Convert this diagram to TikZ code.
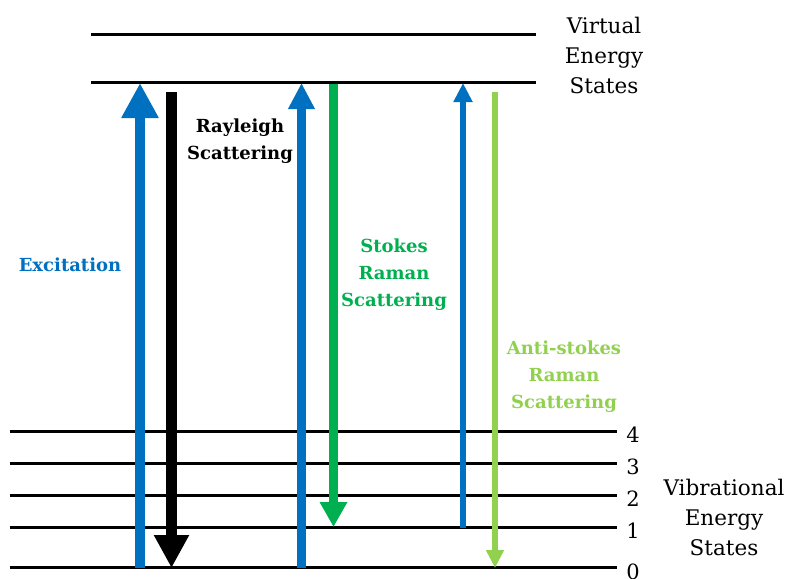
\documentclass[tikz,border=0pt]{standalone}
\usepackage{fontspec}
\setmainfont{DejaVu Serif}
\usetikzlibrary{arrows.meta}
\definecolor{xblue}{HTML}{0070C0}
\definecolor{xgreen}{HTML}{00B050}
\definecolor{xlgreen}{HTML}{92D050}
\tikzset{
  level/.style={line width=3pt, black},
  lbl/.style={align=center, font=\fontsize{18}{27}\selectfont\bfseries, inner sep=0pt},
  side/.style={align=center, font=\fontsize{21.5}{30}\selectfont, inner sep=0pt},
  num/.style={font=\fontsize{21}{24}\selectfont, inner sep=0pt},
}
\begin{document}
\begin{tikzpicture}[x=1pt,y=-1pt]
\useasboundingbox (0,0) rectangle (789,578);
% virtual levels
\coordinate (v1a) at (91,35);  \coordinate (v1b) at (536,35);
\coordinate (v2a) at (91,82);  \coordinate (v2b) at (536,82);
\draw[level] (v1a) -- (v1b);
\draw[level] (v2a) -- (v2b);
% vibrational levels
\foreach \n/\y in {4/431,3/463,2/495,1/527,0/567.5}{
  \coordinate (L\n a) at (10,\y);
  \coordinate (L\n b) at (617,\y);
  \draw[level] (L\n a) -- (L\n b);
  \node[num] (n\n) at (633,\y+4) {\n};
}
% arrows
\coordinate (exB) at (140,568); \coordinate (exT) at (140,83);
\draw[xblue, line width=10pt, -{Triangle[width=35pt,length=35pt]}] (exB) -- (exT);
\coordinate (raT) at (171.5,92); \coordinate (raB) at (171.5,568);
\draw[black, line width=11pt, -{Triangle[width=33pt,length=33pt]}] (raT) -- (raB);
\coordinate (b2B) at (301.5,568); \coordinate (b2T) at (301.5,83);
\draw[xblue, line width=9pt, -{Triangle[width=25pt,length=26pt]}] (b2B) -- (b2T);
\coordinate (stT) at (333.5,83.5); \coordinate (stB) at (333.5,527);
\draw[xgreen, line width=9pt, -{Triangle[width=26pt,length=25pt]}] (stT) -- (stB);
\coordinate (b3B) at (463,527.5); \coordinate (b3T) at (463,83);
\draw[xblue, line width=6pt, -{Triangle[width=18pt,length=19pt]}] (b3B) -- (b3T);
\coordinate (asT) at (495,92); \coordinate (asB) at (495,568);
\draw[xlgreen, line width=6pt, -{Triangle[width=17pt,length=18pt]}] (asT) -- (asB);
% labels
\node[lbl, black] (ray) at (240,141) {Rayleigh\\Scattering};
\node[lbl, xblue] (exc) at (70,265) {Excitation};
\node[lbl, xgreen] (sto) at (394,275) {Stokes\\Raman\\Scattering};
\node[lbl, xlgreen] (ast) at (564,377) {Anti-stokes\\Raman\\Scattering};
\node[side] (virt) at (604,55) {Virtual\\Energy\\States};
\node[side] (vib) at (724,517) {Vibrational\\Energy\\States};
\end{tikzpicture}
\end{document}
